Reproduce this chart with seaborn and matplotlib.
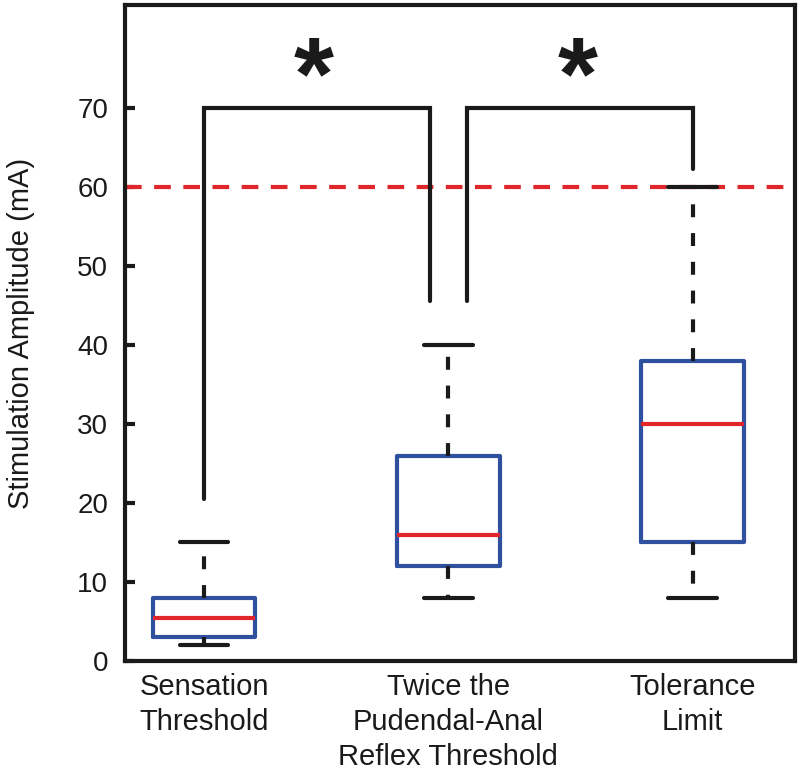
import numpy as np
import pandas as pd
import seaborn as sns
import matplotlib.pyplot as plt

# five-number summaries (min, q1, median, q3, max)
grupos = ['Sensation\nThreshold', 'Twice the\nPudendal-Anal\nReflex Threshold', 'Tolerance\nLimit']
sensacao = [2, 3, 5.5, 8, 15]
reflexo = [8, 12, 16, 26, 40]
tolerancia = [8, 15, 30, 38, 60]
limite = 60

# brackets: (x esquerda, y base esquerda, x direita, y base direita, topo)
colchetes = [(0, 20.5, 0.925, 45.5, 70), (1.075, 45.5, 2, 62.3, 70)]
estrelas_x = [0.45, 1.53]

df = pd.DataFrame({
    'grupo': np.repeat(grupos, 5),
    'valor': sensacao + reflexo + tolerancia,
})

sns.set_theme(style='white')
plt.rcParams['font.family'] = ['Liberation Sans', 'DejaVu Sans']

fig = plt.figure(figsize=(8, 7.72), dpi=100)
ax = fig.add_axes([0.156, 0.1438, 0.838, 0.8497])

azul = '#2f4f9f'
vermelho = '#e0262a'
sns.boxplot(data=df, x='grupo', y='valor', order=grupos, whis=np.inf,
            width=0.42, fill=False, ax=ax,
            boxprops=dict(color=azul, linewidth=3),
            medianprops=dict(color=vermelho, linewidth=3),
            whiskerprops=dict(color='#1a1a1a', linewidth=3, linestyle=(0, (3.1, 3.8))),
            capprops=dict(color='#1a1a1a', linewidth=3),
            capwidths=0.2)

ax.axhline(limite, color=vermelho, linewidth=3, linestyle=(0, (4, 3)), zorder=1)

for x1, y1, x2, y2, topo in colchetes:
    ax.plot([x1, x1, x2, x2], [y1, topo, topo, y2], color='#1a1a1a', linewidth=3,
            solid_joinstyle='miter', zorder=3)
for xe in estrelas_x:
    ax.text(xe, 73.2, '*', fontsize=74, fontweight='bold', ha='center', va='center',
            color='#1a1a1a')

ax.set_xlim(-0.324, 2.42)
ax.set_ylim(0, 83)
ax.set_yticks(range(0, 80, 10))
ax.set_xlabel('')
ax.set_ylabel('Stimulation Amplitude (mA)', fontsize=21, color='#1a1a1a', labelpad=30)
ax.tick_params(axis='y', direction='in', length=7, width=3, labelsize=20,
               colors='#1a1a1a', left=True, pad=12)
ax.tick_params(axis='x', length=0, labelsize=21, colors='#1a1a1a', pad=9)
for lbl in ax.get_xticklabels():
    lbl.set_linespacing(1.3)
for s in ax.spines.values():
    s.set_linewidth(3)
    s.set_color('#1a1a1a')

fig.savefig('out.png', dpi=100)
